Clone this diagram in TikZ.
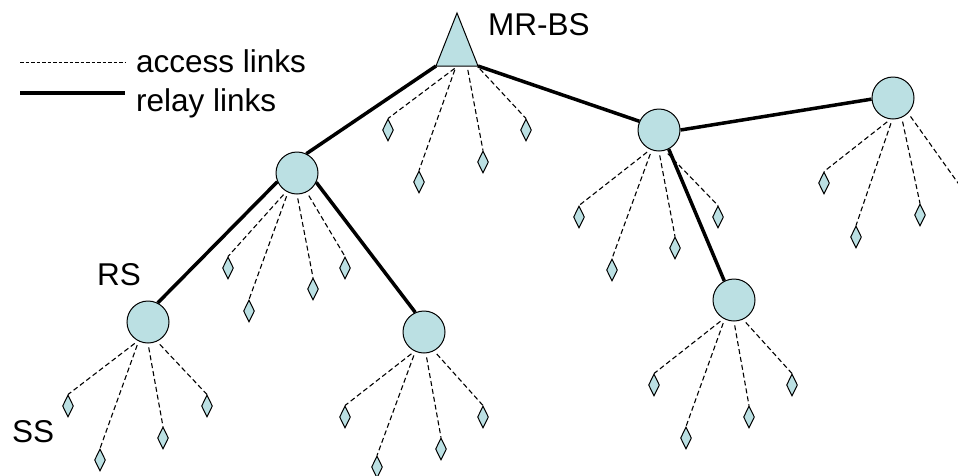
\documentclass[tikz,border=0pt]{standalone}
\usepackage{fontspec}
\setmainfont{Liberation Sans}
\usetikzlibrary{shapes.geometric,calc}
\definecolor{nodefill}{RGB}{187,224,227}
\tikzset{
 rsnode/.style={circle,draw,line width=1pt,fill=nodefill,minimum size=42pt,inner sep=0pt},
 ssnode/.style={diamond,draw,line width=1pt,fill=nodefill,minimum width=11pt,minimum height=22pt,inner sep=0pt},
 relay/.style={line width=3.5pt},
 access/.style={line width=1.1pt,dash pattern=on 5pt off 3pt,shorten <=4pt},
 legacc/.style={line width=0.9pt,dash pattern=on 3.5pt off 2pt},
 lbl/.style={anchor=base west,inner sep=0pt,font=\fontsize{31.5}{37}\selectfont}
}
\begin{document}
\begin{tikzpicture}[x=1pt,y=-1pt]
\useasboundingbox (0,0) rectangle (958,475);
\clip (0,0) rectangle (958,475);

% legend
\coordinate (la1) at (20,62); \coordinate (la2) at (125,62);
\coordinate (lr1) at (20,93); \coordinate (lr2) at (125,93);
\draw[legacc] (la1) -- (la2);
\draw[relay] (lr1) -- (lr2);
\node[lbl] (tacc) at (136,72) {access links};
\node[lbl] (trel) at (136,111) {relay links};

% labels
\node[lbl] (tbs) at (488,35) {MR-BS};
\node[lbl] (trs) at (97,285) {RS};
\node[lbl] (tss) at (12,442) {SS};

% base station triangle
\coordinate (bsT) at (457,13);
\coordinate (bsL) at (436,66);
\coordinate (bsR) at (478,66);
\draw[line width=1pt,fill=nodefill,line join=miter] (bsT) -- (bsR) -- (bsL) -- cycle;

% relay stations
\node[rsnode] (c1) at (297,173) {};
\node[rsnode] (rs) at (148,322) {};
\node[rsnode] (c3) at (424,332) {};
\node[rsnode] (c2) at (659,130) {};
\node[rsnode] (c4) at (893,98) {};
\node[rsnode] (c5) at (734,300) {};

% subscriber stations
\node[ssnode] (b1) at (388,130) {};
\node[ssnode] (b2) at (419,182) {};
\node[ssnode] (b3) at (483,162) {};
\node[ssnode] (b4) at (526,130) {};
\node[ssnode] (a1) at (228,268) {};
\node[ssnode] (a2) at (249,311) {};
\node[ssnode] (a3) at (313,289) {};
\node[ssnode] (a4) at (345,268) {};
\node[ssnode] (r1) at (68,406) {};
\node[ssnode] (r2) at (100,460) {};
\node[ssnode] (r3) at (163,438) {};
\node[ssnode] (r4) at (207,406) {};
\node[ssnode] (d1) at (345,417) {};
\node[ssnode] (d2) at (377,467) {};
\node[ssnode] (d3) at (441,449) {};
\node[ssnode] (d4) at (483,417) {};
\node[ssnode] (e1) at (654,385) {};
\node[ssnode] (e2) at (686,438) {};
\node[ssnode] (e3) at (749,417) {};
\node[ssnode] (e4) at (792,385) {};
\node[ssnode] (f1) at (579,217) {};
\node[ssnode] (f2) at (612,270) {};
\node[ssnode] (f3) at (675,248) {};
\node[ssnode] (f4) at (718,217) {};
\node[ssnode] (g1) at (824,183) {};
\node[ssnode] (g2) at (856,237) {};
\node[ssnode] (g3) at (920,215) {};
\coordinate (g4) at (963,190);

% relay links
\draw[relay] (bsL) -- (c1.64);
\draw[relay] (bsR) -- (c2.156);
\draw[relay] (c1.204) -- (rs.63);
\draw[relay] (c1.334) -- (c3.114);
\draw[relay] (c2.0) -- (c4.183);
\draw[relay] (c2.297) -- (c5.117);

% access links
\draw[access] ($(bsL)!0.52!(bsR)$) -- (b1.north);
\draw[access] ($(bsL)!0.48!(bsR)$) -- (b2.north);
\draw[access] ($(bsL)!0.74!(bsR)$) -- (b3.north);
\draw[access] ($(bsL)!0.98!(bsR)$) -- (b4.north);
\foreach \p/\a/\d in {c1/240/a1, c1/245/a2, c1/270/a3, c1/297/a4,
  rs/242/r1, rs/244/r2, rs/270/r3, rs/295/r4,
  c3/244/d1, c3/246/d2, c3/275/d3, c3/298/d4,
  c5/241/e1, c5/244/e2, c5/270/e3, c5/295/e4,
  c2/246/f1, c2/250/f2, c2/270/f3, c2/286/f4,
  c4/263/g1, c4/268/g2, c4/294/g3}
  \draw[access] (\p.\a) -- (\d.north);
\draw[access] (c4.315) -- (g4);
\end{tikzpicture}
\end{document}
